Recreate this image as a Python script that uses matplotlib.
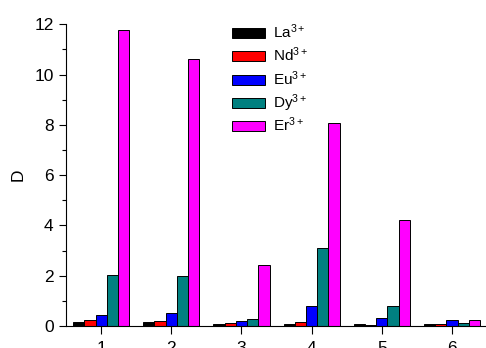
import numpy as np
import matplotlib
matplotlib.use("Agg")
import matplotlib.pyplot as plt
from matplotlib.patches import Rectangle
from matplotlib.ticker import MultipleLocator

plt.rcParams['font.family'] = ['Liberation Sans', 'DejaVu Sans']
plt.rcParams['mathtext.fontset'] = 'custom'
plt.rcParams['mathtext.rm'] = 'Liberation Sans'
plt.rcParams['mathtext.it'] = 'Liberation Sans'
plt.rcParams['mathtext.default'] = 'regular'

samples = [1, 2, 3, 4, 5, 6]
ions = ['La$^{3+}$', 'Nd$^{3+}$', 'Eu$^{3+}$', 'Dy$^{3+}$', 'Er$^{3+}$']
colors = ['#000000', '#ff0000', '#0000ff', '#008080', '#ff00ff']

La = [0.17, 0.16, 0.09, 0.08, 0.09, 0.07]
Nd = [0.23, 0.19, 0.10, 0.16, 0.04, 0.08]
Eu = [0.45, 0.50, 0.20, 0.80, 0.30, 0.23]
Dy = [2.02, 2.00, 0.28, 3.10, 0.80, 0.11]
Er = [11.79, 10.60, 2.42, 8.06, 4.20, 0.25]
series = [La, Nd, Eu, Dy, Er]

W, H = 486, 348
fig = plt.figure(figsize=(W / 100, H / 100), dpi=100)
ax = fig.add_axes([0.136, 0.0632, 0.866, 0.867])

x = np.array(samples, dtype=float)
w = 0.16
for i, (vals, c) in enumerate(zip(series, colors)):
    ax.bar(x + (i - 2) * w, vals, width=w, color=c, edgecolor='black',
           linewidth=0.7)

ax.set_xlim(0.5, 6.5)
ax.set_ylim(0, 12)
ax.set_xticks(samples)
ax.yaxis.set_major_locator(MultipleLocator(2))
ax.yaxis.set_minor_locator(MultipleLocator(1))
ax.spines['top'].set_visible(False)
ax.spines['right'].set_visible(False)
ax.tick_params(axis='both', which='major', direction='out', length=5,
               width=0.8, labelsize=12.5, pad=4)
ax.tick_params(axis='y', which='minor', direction='out', length=3, width=0.8)
ax.tick_params(axis='x', length=6, pad=5)
ax.set_ylabel('D', fontsize=12.5, labelpad=6)

# legend key: evenly spaced rows (pixel layout converted to figure fraction)
key_x0, key_w, key_h = 232, 33, 10
row_y0, row_step = 33, 23.25
for i, (c, lab) in enumerate(zip(colors, ions)):
    yc = row_y0 + i * row_step
    fig.add_artist(Rectangle((key_x0 / W, 1 - (yc + key_h / 2) / H),
                             key_w / W, key_h / H, facecolor=c,
                             edgecolor='black', linewidth=0.7,
                             transform=fig.transFigure))
    fig.text((key_x0 + key_w + 8) / W, 1 - (yc + 5) / H, lab, fontsize=11,
             va='baseline', ha='left')

fig.savefig('out.png', dpi=100)
